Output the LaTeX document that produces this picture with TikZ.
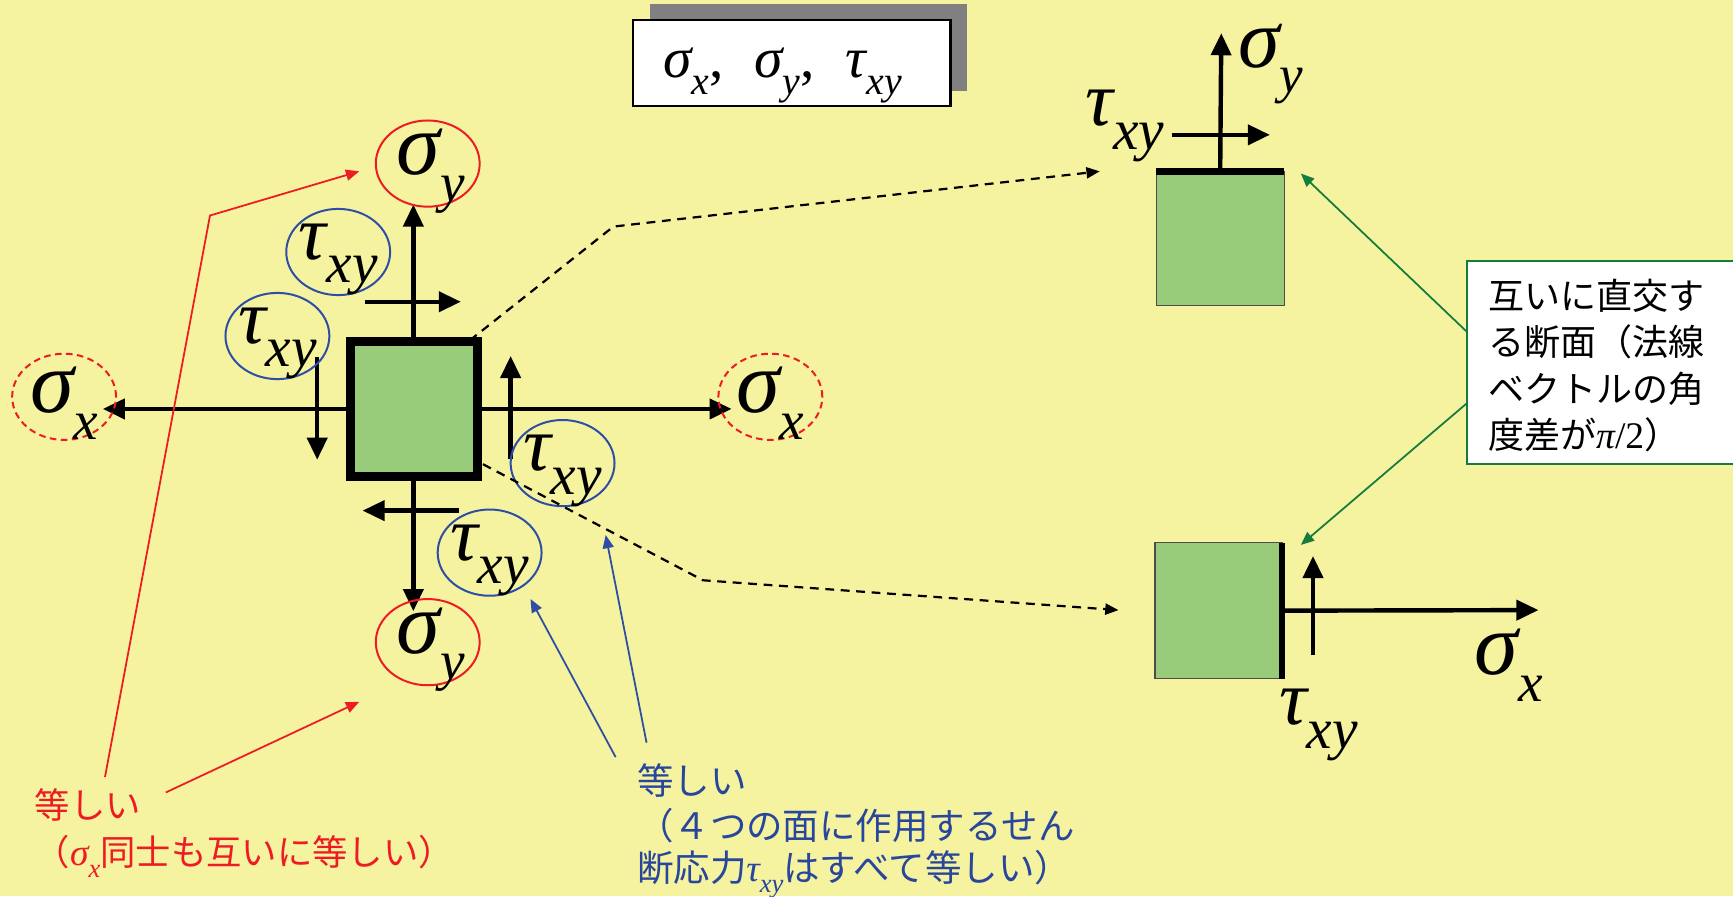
\documentclass[tikz,border=0pt]{standalone}
\usepackage{fontspec}
\setmainfont{Liberation Serif}
\newfontfamily\tms{Liberation Serif}
\newfontfamily\jp{Noto Sans CJK JP}
\usetikzlibrary{arrows.meta,shapes.geometric}
\definecolor{bg}{RGB}{245,242,160}
\definecolor{sqg}{RGB}{152,204,122}
\definecolor{myred}{RGB}{237,28,36}
\definecolor{myblue}{RGB}{46,78,165}
\definecolor{txtblue}{RGB}{40,70,155}
\definecolor{mygreen}{RGB}{20,125,60}
\definecolor{shadowgray}{RGB}{128,128,128}
\newcommand\mysym[4]{{\tms\itshape\fontsize{#3pt}{#3pt}\selectfont #1\raisebox{-0.3em}{\fontsize{#4pt}{#4pt}\selectfont #2}}}
\newcommand\jpf[2]{\jp\fontsize{#1pt}{#2pt}\selectfont}
\begin{document}
\begin{tikzpicture}[x=0.5pt,y=-0.5pt,
  bigarr/.style={line width=2pt,-{Triangle[length=10pt,width=9pt]}},
  redarr/.style={myred,line width=0.8pt,-{Triangle[length=6pt,width=5pt]}},
  bluarr/.style={myblue,line width=0.8pt,-{Triangle[length=6pt,width=5pt]}},
  grnarr/.style={mygreen,line width=0.8pt,-{Triangle[length=6pt,width=5pt]}},
  dasharr/.style={line width=1pt,dash pattern=on 4pt off 3pt,-{Triangle[length=6pt,width=5pt]}},
  ring/.style={ellipse,minimum width=47pt,minimum height=39pt,inner sep=0pt,line width=0.9pt},
  redring/.style={ring,draw=myred},
  redring2/.style={ring,draw=myred,dash pattern=on 3pt off 2pt},
  bluering/.style={ring,draw=myblue},
  sym/.style={inner sep=0pt},
  edgebar/.style={line width=3pt},
  cell/.style={fill=sqg,draw=black!70,line width=0.5pt},
  para/.style={anchor=north west,inner sep=0pt,align=left}
]
\fill[bg] (0,0) rectangle (1568,811);
\useasboundingbox (0,0) rectangle (1568,811);

% title box
\fill[shadowgray] (588,4) rectangle (875,82);
\node[draw,fill=white,line width=1pt,minimum width=143.5pt,minimum height=39pt,inner sep=0pt,outer sep=0pt] (titlebox) at (716.5,57) {};
\node[sym] (title) at (708,68) {\mysym{σ}{x}{26}{18}{\tms\fontsize{26pt}{26pt}\selectfont,}\hspace{14pt}\mysym{σ}{y}{26}{18}{\tms\fontsize{26pt}{26pt}\selectfont,}\hspace{14pt}\mysym{τ}{xy}{26}{18}};

% main square
\node[draw,line width=4pt,fill=sqg,minimum width=57.5pt,minimum height=61pt,inner sep=0pt,outer sep=0pt] (sq) at (374.5,370) {};

% tips
\coordinate (tU) at (374,185);
\coordinate (tD) at (374,553);
\coordinate (tL) at (93,370);
\coordinate (tR) at (662,370);
\coordinate (sU) at (374,305);
\coordinate (sD) at (374,435);
\coordinate (sL) at (313,370);
\coordinate (sR) at (436,370);
\draw[bigarr] (sU) -- (tU);
\draw[bigarr] (sD) -- (tD);
\draw[bigarr] (sL) -- (tL);
\draw[bigarr] (sR) -- (tR);

% shear arrows
\coordinate (hT0) at (330,273); \coordinate (hT1) at (417,273);
\coordinate (hL0) at (287,323); \coordinate (hL1) at (287,416);
\coordinate (hR0) at (462,415); \coordinate (hR1) at (462,322);
\coordinate (hB0) at (415,462); \coordinate (hB1) at (328,462);
\draw[bigarr] (hT0) -- (hT1);
\draw[bigarr] (hL0) -- (hL1);
\draw[bigarr] (hR0) -- (hR1);
\draw[bigarr] (hB0) -- (hB1);

% rings
\node[redring] (syT) at (387,148) {};
\node[sym] (syTt) at (390,155) {\mysym{σ}{y}{40}{25}};
\node[redring] (syB) at (387,581) {};
\node[sym] (syBt) at (390,588) {\mysym{σ}{y}{40}{25}};
\node[redring2] (sxL) at (58,359) {};
\node[sym] (sxLt) at (58,365) {\mysym{σ}{x}{40}{25}};
\node[redring2] (sxR) at (697,359) {};
\node[sym] (sxRt) at (697,365) {\mysym{σ}{x}{40}{25}};
\node[bluering] (tA) at (306,228) {};
\node[sym] (tAt) at (306,235) {\mysym{τ}{xy}{35}{26}};
\node[bluering] (tB) at (251,304) {};
\node[sym] (tBt) at (251,311) {\mysym{τ}{xy}{35}{26}};
\node[bluering] (tC) at (509,419) {};
\node[sym] (tCt) at (509,426) {\mysym{τ}{xy}{35}{26}};
\node[bluering] (tD2) at (443,500) {};
\node[sym] (tDt) at (443,507) {\mysym{τ}{xy}{35}{26}};

% dashed leaders
\coordinate (dA0) at (425,308); \coordinate (dA1) at (555,205); \coordinate (dA2) at (995,155);
\coordinate (dB0) at (437,420); \coordinate (dB1) at (636,525); \coordinate (dB2) at (1012,552);
\draw[dasharr] (dA0) -- (dA1) -- (dA2);
\draw[dasharr] (dB0) -- (dB1) -- (dB2);

% upper right element
\node[cell,minimum width=58pt,minimum height=60.5pt,inner sep=0pt,outer sep=0pt] (cellA) at (1104,215.5) {};
\draw[edgebar] (cellA.north west) -- (cellA.north east);
\coordinate (aU) at (1105,30);
\coordinate (aH0) at (1060,122); \coordinate (aH1) at (1149,122);
\draw[bigarr] (cellA.north) -- (aU);
\draw[bigarr] (aH0) -- (aH1);
\node[sym] (aSy) at (1150,58) {\mysym{σ}{y}{38}{24}};
\node[sym] (aTxy) at (1018,114) {\mysym{τ}{xy}{35}{26}};

% lower right element
\node[cell,minimum width=57.5pt,minimum height=61.5pt,inner sep=0pt,outer sep=0pt] (cellB) at (1102.5,552.5) {};
\draw[edgebar] (cellB.north east) -- (cellB.south east);
\coordinate (bR) at (1392,552);
\coordinate (bV0) at (1188,593); \coordinate (bV1) at (1188,503);
\draw[bigarr] (cellB.east) -- (bR);
\draw[bigarr] (bV0) -- (bV1);
\node[sym] (bSx) at (1365,602) {\mysym{σ}{x}{40}{25}};
\node[sym] (bTxy) at (1193,656) {\mysym{τ}{xy}{35}{26}};

% green callout
\draw[mygreen,line width=1pt,fill=white] (1327,236) rectangle (1575,420);
\coordinate (gA) at (1327,300); \coordinate (gB) at (1327,365);
\coordinate (gA1) at (1177,157); \coordinate (gB1) at (1177,493);
\draw[grnarr] (gA) -- (gA1);
\draw[grnarr] (gB) -- (gB1);
\node[para,font=\jpf{16.3}{21}] (callout) at (1346,252) {互いに直交す\\る断面（法線\\ベクトルの角\\度差が{\tms\fontsize{17pt}{17pt}\selectfont\itshape π\upshape/2}）};

% red annotation
\coordinate (rA0) at (95,703); \coordinate (rA1) at (190,195); \coordinate (rA2) at (325,155);
\coordinate (rB0) at (150,717); \coordinate (rB1) at (325,635);
\draw[redarr] (rA0) -- (rA1) -- (rA2);
\draw[redarr] (rB0) -- (rB1);
\node[para,text=myred,font=\jpf{16}{21.5}] (rtext) at (31,713) {等しい\\（\mysym{σ}{x}{17}{12}同士も互いに等しい）};

% blue annotation
\coordinate (bA0) at (557,685); \coordinate (bA1) at (480,542);
\coordinate (bB0) at (585,672); \coordinate (bB1) at (548,484);
\draw[bluarr] (bA0) -- (bA1);
\draw[bluarr] (bB0) -- (bB1);
\node[para,text=txtblue,font=\jpf{16.5}{19}] (btext) at (576,691) {等しい\\[1pt]（４つの面に作用するせん\\断応力\mysym{τ}{xy}{17}{12}はすべて等しい）};
\end{tikzpicture}
\end{document}
